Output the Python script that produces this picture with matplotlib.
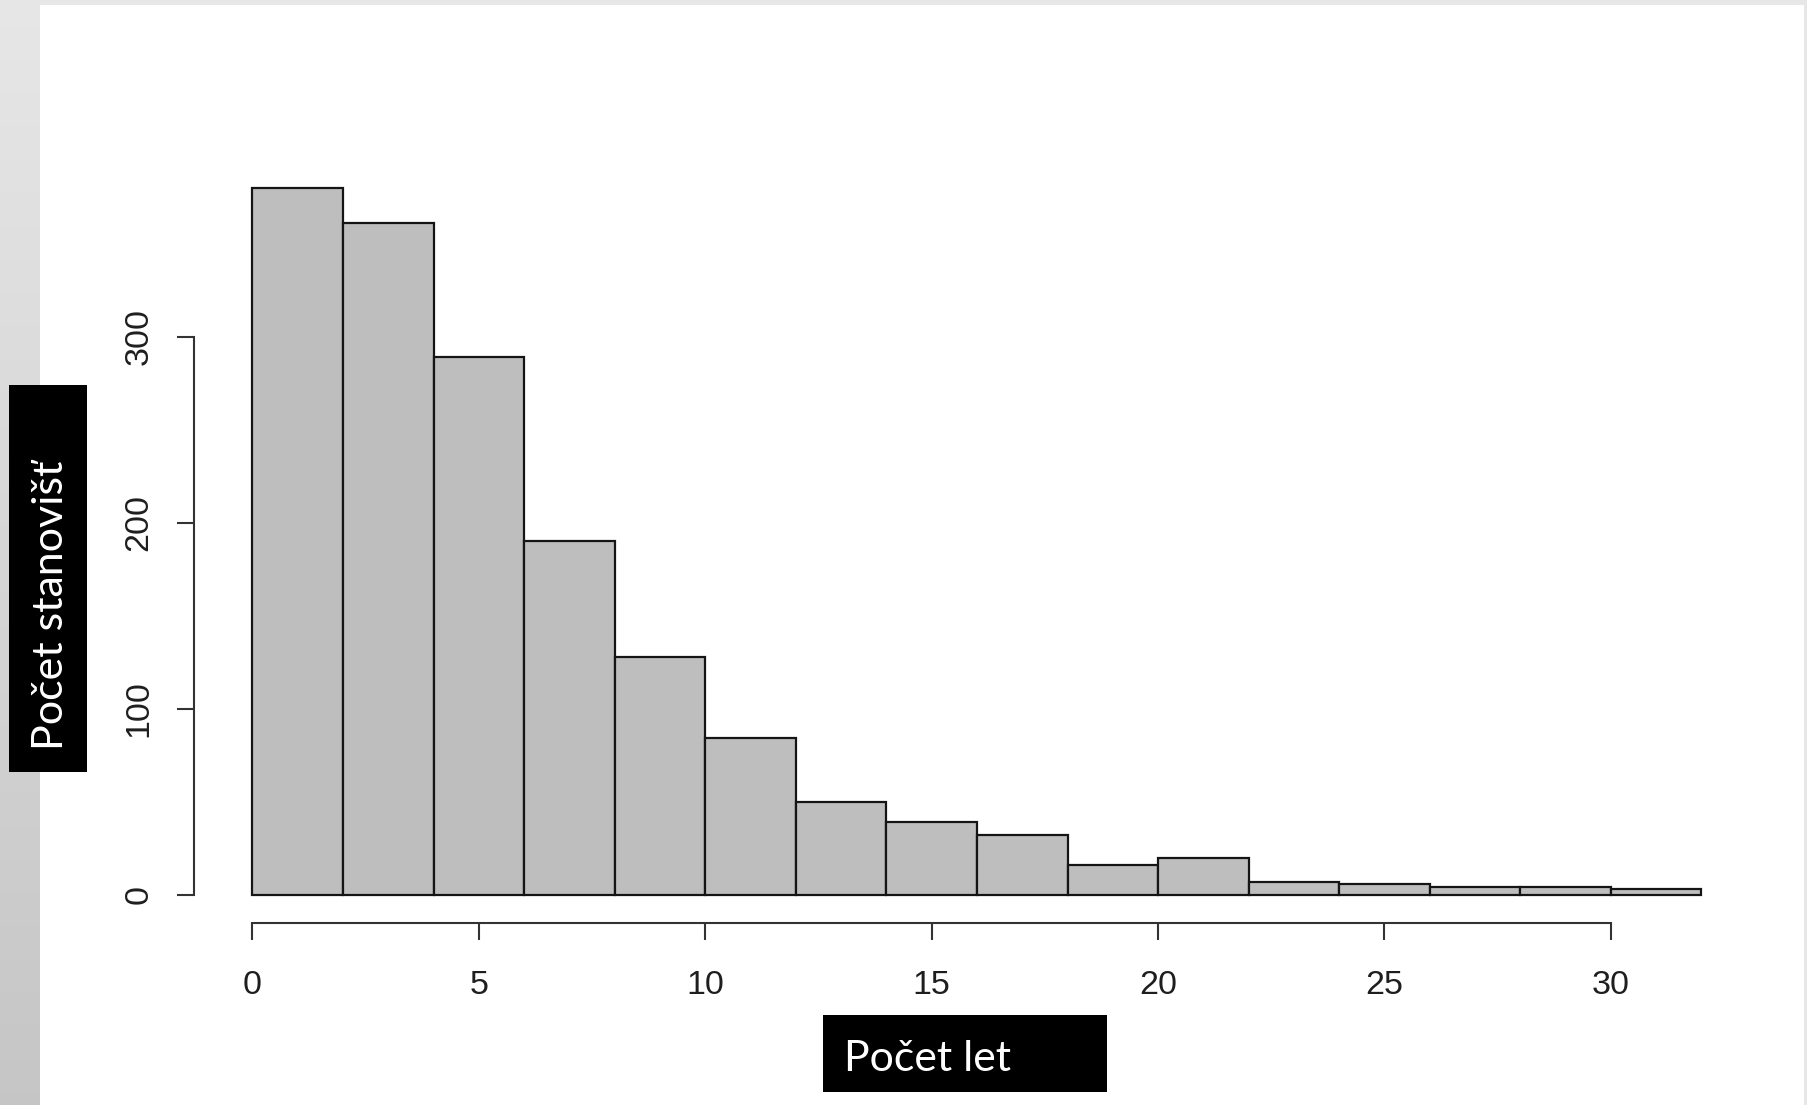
import matplotlib
matplotlib.use('Agg')
import matplotlib.pyplot as plt
import numpy as np
from matplotlib.patches import Rectangle
from matplotlib.transforms import IdentityTransform

# ---- data ----
bin_edges = [0, 2, 4, 6, 8, 10, 12, 14, 16, 18, 20, 22, 24, 26, 28, 30, 32]
counts = [380, 361, 289, 190, 128, 84, 50, 39, 32, 16, 20, 7, 6, 4, 4, 3]
x_ticks = [0, 5, 10, 15, 20, 25, 30]
y_ticks = [0, 100, 200, 300]
x_label = "Počet let"
y_label = "Počet stanovišť"

W, H = 1808, 1105
fig = plt.figure(figsize=(W / 100, H / 100), dpi=100)
fig.patch.set_facecolor('#e7e7e7')
PX = IdentityTransform()

# left gradient strip
grad = np.linspace(0.905, 0.775, H)
img = np.dstack([np.repeat(grad[:, None], 40, axis=1)] * 3)
fig.figimage(img, xo=0, yo=0, origin='upper', zorder=0)

# white slide panel
fig.add_artist(Rectangle((40, 0), 1764, H - 5, transform=PX,
                         facecolor='white', edgecolor='none', zorder=0.5))

# ---- axes (R-style histogram) ----
l, r_, t_, b_ = 194.5, 1759.4, 159.5, 923.0
ax = fig.add_axes([l / W, (H - b_) / H, (r_ - l) / W, (b_ - t_) / H])
ax.set_facecolor('none')
ax.set_zorder(2)

widths = np.diff(bin_edges)
ax.bar(bin_edges[:-1], counts, width=widths, align='edge',
       color='#bebebe', edgecolor='#151515', linewidth=1.6)

ax.set_xlim(-1.28, 33.28)
ax.set_ylim(-15.2, 395.2)
for s in ['top', 'right']:
    ax.spines[s].set_visible(False)
ax.spines['left'].set_bounds(0, 300)
ax.spines['bottom'].set_bounds(0, 30)
for s in ['left', 'bottom']:
    ax.spines[s].set_linewidth(1.5)
    ax.spines[s].set_color('#333333')

ax.set_xticks(x_ticks)
ax.set_yticks(y_ticks)
ax.set_xticklabels([str(v) for v in x_ticks], fontfamily='Liberation Sans')
ax.set_yticklabels([str(v) for v in y_ticks], fontfamily='Liberation Sans',
                   rotation=90, va='center')
ax.tick_params(axis='both', length=12, width=1.5, color='#333333',
               labelsize=24.5, labelcolor='#1e1e1e')
ax.tick_params(axis='x', pad=22)
ax.tick_params(axis='y', pad=17)

# ---- black label boxes ----
fig.add_artist(Rectangle((9, H - 771.5), 77.5, 386.5, transform=PX,
                         facecolor='black', edgecolor='none', zorder=3))
fig.add_artist(Rectangle((823, H - 1092), 284, 77.5, transform=PX,
                         facecolor='black', edgecolor='none', zorder=3))

ty = fig.text(63, H - 605, y_label, transform=PX, rotation=90,
              rotation_mode='anchor', ha='center', va='baseline',
              color='white', fontsize=30, fontfamily='Lato', zorder=4)
tx = fig.text(844, H - 1071, x_label, transform=PX, ha='left', va='baseline',
              color='white', fontsize=30, fontfamily='Lato', zorder=4)

renderer = fig.canvas.get_renderer()
bb = ty.get_window_extent(renderer)
ty.set_fontsize(30 * 290 / bb.height)
bb = tx.get_window_extent(renderer)
tx.set_fontsize(30 * 167 / bb.width)

fig.savefig('out.png', dpi=100, facecolor=fig.get_facecolor())
